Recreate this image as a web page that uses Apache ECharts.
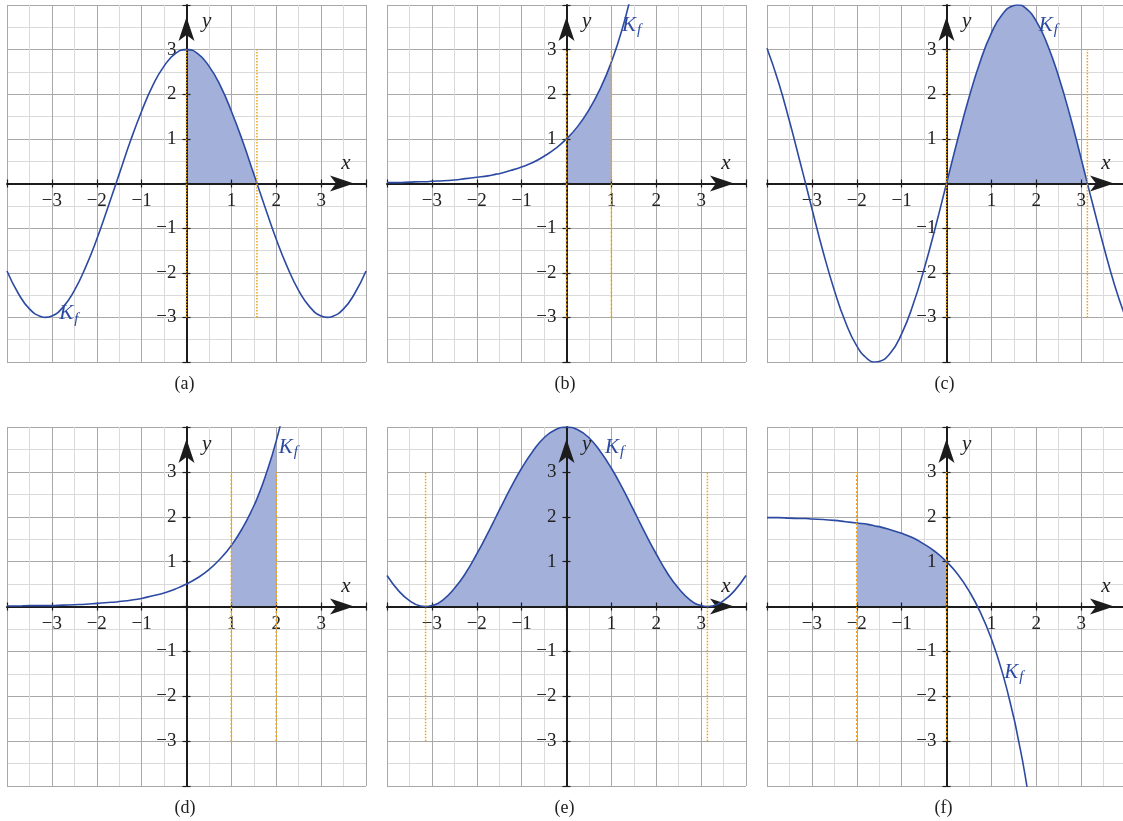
<!DOCTYPE html>
<html>
<head>
<meta charset="utf-8">
<script src="https://cdn.jsdelivr.net/npm/echarts@6/dist/echarts.min.js"></script>
<style>
  html, body { margin: 0; padding: 0; background: #fff; }
  #chart { width: 1123px; height: 821px; }
</style>
</head>
<body>
<div id="chart"></div>
<script>
  const xs = [-4, -3.75, -3.5, -3.25, -3.14, -3, -2.75, -2.5, -2.25, -2, -1.75, -1.57, -1.5, -1.25, -1, -0.75, -0.5, -0.25,
    0, 0.25, 0.5, 0.75, 1, 1.25, 1.5, 1.57, 1.75, 2, 2.25, 2.5, 2.75, 3, 3.14, 3.25, 3.5, 3.75, 4]

  // curve values per panel (null = already off the top/bottom of the frame)
  const yA = [-1.96, -2.46, -2.81, -2.98, -3, -2.97, -2.77, -2.40, -1.88, -1.25, -0.53, 0, 0.21, 0.95, 1.62, 2.20, 2.63, 2.91,
    3, 2.91, 2.63, 2.20, 1.62, 0.95, 0.21, 0, -0.53, -1.25, -1.88, -2.40, -2.77, -2.97, -3, -2.98, -2.81, -2.46, -1.96]
  const yB = [0.02, 0.02, 0.03, 0.04, 0.04, 0.05, 0.06, 0.08, 0.11, 0.14, 0.17, 0.21, 0.22, 0.29, 0.37, 0.47, 0.61, 0.78,
    1, 1.28, 1.65, 2.12, 2.72, 3.49, 4.48, 4.81, 5.75, null, null, null, null, null, null, null, null, null, null]
  const yC = [3.03, 2.29, 1.40, 0.43, 0, -0.56, -1.53, -2.39, -3.11, -3.64, -3.94, -4, -3.99, -3.80, -3.37, -2.73, -1.92, -0.99,
    0, 0.99, 1.92, 2.73, 3.37, 3.80, 3.99, 4, 3.94, 3.64, 3.11, 2.39, 1.53, 0.56, 0, -0.43, -1.40, -2.29, -3.03]
  const yD = [0.01, 0.01, 0.02, 0.02, 0.02, 0.02, 0.03, 0.04, 0.05, 0.07, 0.09, 0.10, 0.11, 0.14, 0.18, 0.24, 0.30, 0.39,
    0.5, 0.64, 0.82, 1.06, 1.36, 1.75, 2.24, 2.40, 2.88, 3.69, 4.74, 6.09, null, null, null, null, null, null, null]
  const yE = [0.69, 0.36, 0.13, 0.01, 0, 0.02, 0.15, 0.40, 0.74, 1.17, 1.64, 2, 2.14, 2.63, 3.08, 3.46, 3.76, 3.94,
    4, 3.94, 3.76, 3.46, 3.08, 2.63, 2.14, 2, 1.64, 1.17, 0.74, 0.40, 0.15, 0.02, 0, 0.01, 0.13, 0.36, 0.69]
  const yF = [1.98, 1.98, 1.97, 1.96, 1.96, 1.95, 1.94, 1.92, 1.89, 1.86, 1.83, 1.79, 1.78, 1.71, 1.63, 1.53, 1.39, 1.22,
    1, 0.72, 0.35, -0.12, -0.72, -1.49, -2.48, -2.81, -3.75, -5.39, null, null, null, null, null, null, null, null, null]

  // shaded interval [from, to]
  const shadeA = [0, 1.57]
  const shadeB = [0, 1]
  const shadeC = [0, 3.14]
  const shadeD = [1, 2]
  const shadeE = [-3.14, 3.14]
  const shadeF = [-2, 0]

  // dotted guide lines (x positions), drawn from y = -3 to 3
  const guidesA = [0, 1.57]
  const guidesB = [0, 1]
  const guidesC = [0, 3.14]
  const guidesD = [1, 2]
  const guidesE = [-3.14, 3.14]
  const guidesF = [-2, 0]
  const guideSpan = [-3, 3]

  const captions = ['(a)', '(b)', '(c)', '(d)', '(e)', '(f)']

  const BLUE = '#2c4aa2'
  const FILL = '#a3b1da'
  const ORANGE = '#f2a20c'
  const INK = '#1c1c1c'
  const SERIF = '"Liberation Serif", "DejaVu Serif", serif'

  const panels = [
    { ys: yA, shade: shadeA, guides: guidesA, kf: [-2.62, -2.92], dash: 'dotted' },
    { ys: yB, shade: shadeB, guides: guidesB, kf: [1.45, 3.55], dash: [2, 2] },
    { ys: yC, shade: shadeC, guides: guidesC, kf: [2.27, 3.55], dash: 'dotted' },
    { ys: yD, shade: shadeD, guides: guidesD, kf: [2.27, 3.55], dash: [2, 2] },
    { ys: yE, shade: shadeE, guides: guidesE, kf: [1.07, 3.55], dash: 'dotted' },
    { ys: yF, shade: shadeF, guides: guidesF, kf: [1.5, -1.47], dash: [2, 2] }
  ]

  const cols = [7, 387, 767]
  const rows = [{ top: 5, height: 357 }, { top: 427, height: 359 }]
  const W = 359

  const tickFmt = v => (v === 0 || Math.abs(v) === 4) ? '' : (v < 0 ? '\u2212' + (-v) : String(v))

  const grid = [], xAxis = [], yAxis = [], series = [], graphic = []

  // three stacked grids per panel: background lines, inner tick halves, main axes + data.
  // the axes are shifted to the middle of the box (x = 0 / y = 0) with a negative offset
  const bgAxis = (g) => ({
    type: 'value', gridIndex: g, min: -4, max: 4, interval: 1, z: 0,
    axisLine: { show: false, onZero: false }, axisTick: { show: false }, axisLabel: { show: false },
    minorTick: { show: false, splitNumber: 2 },
    splitLine: { show: true, lineStyle: { color: '#a8a8a8', width: 1 } },
    minorSplitLine: { show: true, lineStyle: { color: '#dadada', width: 1 } }
  })
  const tickAxis = (g, off) => ({
    type: 'value', gridIndex: g, min: -4, max: 4, interval: 1, z: 3, offset: off,
    axisLine: { show: false, onZero: false },
    axisTick: { show: true, inside: true, length: 4, lineStyle: { color: INK, width: 1.2 } },
    axisLabel: { show: false }, splitLine: { show: false }
  })
  const mainAxis = (g, off, isX) => ({
    type: 'value', gridIndex: g, min: -4, max: 4, interval: 1, z: 3, offset: off,
    axisLine: {
      show: true, onZero: false, symbol: ['none', 'arrow'], symbolSize: [12, 24], symbolOffset: [0, -12],
      lineStyle: { color: INK, width: 2 }
    },
    axisTick: { show: true, inside: false, length: 4, lineStyle: { color: INK, width: 1.2 } },
    axisLabel: { formatter: tickFmt, fontFamily: SERIF, fontSize: 19, color: '#222', margin: isX ? 8 : 10 },
    splitLine: { show: false }
  })

  panels.forEach((p, i) => {
    const col = cols[i % 3]
    const row = rows[Math.floor(i / 3)]
    const box = { left: col, top: row.top, width: W, height: row.height, outerBoundsMode: 'none' }
    const gBg = i * 3, gTick = i * 3 + 1, gMain = i * 3 + 2
    const offX = -row.height / 2, offY = -W / 2
    grid.push(Object.assign({}, box), Object.assign({}, box), Object.assign({}, box))
    xAxis.push(bgAxis(gBg), tickAxis(gTick, offX), mainAxis(gMain, offX, true))
    yAxis.push(bgAxis(gBg), tickAxis(gTick, offY), mainAxis(gMain, offY, false))

    const curve = xs.map((x, k) => [x, p.ys[k]])
    const shadePts = curve.filter(pt => pt[1] != null && pt[0] >= p.shade[0] && pt[0] <= p.shade[1])

    series.push({
      type: 'line', xAxisIndex: gMain, yAxisIndex: gMain, z: 1, silent: true,
      data: shadePts, smooth: true, showSymbol: false, symbol: 'none',
      lineStyle: { width: 0 }, areaStyle: { color: FILL, opacity: 1 }
    })
    series.push({
      type: 'line', xAxisIndex: gMain, yAxisIndex: gMain, z: 4, silent: true,
      data: curve, smooth: true, showSymbol: false, symbol: 'none', connectNulls: false,
      lineStyle: { color: BLUE, width: 1.6 },
      markPoint: {
        symbol: 'circle', symbolSize: 0, silent: true,
        data: [
          {
            coord: p.kf,
            label: {
              show: true, formatter: '{k|K}{s|f}',
              rich: {
                k: { fontFamily: SERIF, fontStyle: 'italic', fontSize: 21, color: BLUE },
                s: { fontFamily: SERIF, fontStyle: 'italic', fontSize: 15, color: BLUE, padding: [10, 0, 0, 1] }
              }
            }
          },
          {
            coord: [3.55, 0.45],
            label: { show: true, formatter: 'x', fontFamily: SERIF, fontStyle: 'italic', fontSize: 21, color: '#222' }
          },
          {
            coord: [0.45, 3.62],
            label: { show: true, formatter: 'y', fontFamily: SERIF, fontStyle: 'italic', fontSize: 21, color: '#222' }
          }
        ]
      }
    })
    p.guides.forEach(g => {
      series.push({
        type: 'line', xAxisIndex: gMain, yAxisIndex: gMain, z: 5, silent: true,
        data: [[g, guideSpan[0]], [g, guideSpan[1]]], showSymbol: false, symbol: 'none',
        lineStyle: { color: ORANGE, width: 1.5, type: p.dash }
      })
    })

    graphic.push({
      type: 'text', left: col + W / 2 - 12, top: row.top + row.height + 13,
      style: { text: captions[i], font: '18px ' + SERIF, fill: '#222' }
    })
  })

  const chart = echarts.init(document.getElementById('chart'), null, { renderer: 'canvas' })
  chart.setOption({
    animation: false,
    backgroundColor: '#fff',
    grid, xAxis, yAxis, series, graphic
  })
</script>
</body>
</html>
